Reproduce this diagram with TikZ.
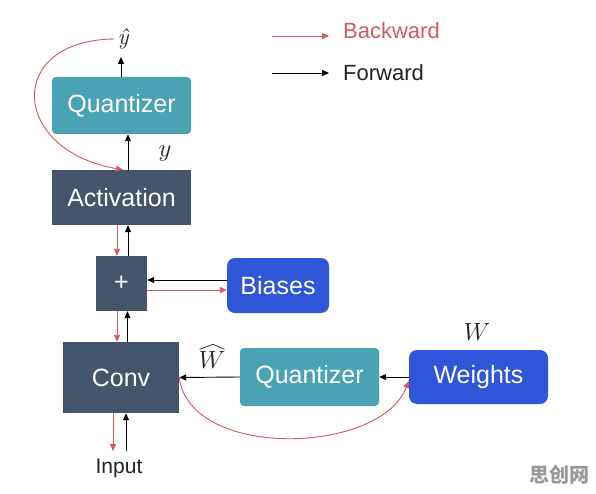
\documentclass[tikz,border=0pt]{standalone}
\usepackage{fontspec}
\setmainfont{Liberation Sans}
\newfontfamily\cjk{Noto Sans CJK SC}
\newfontfamily\lmr{Latin Modern Roman}
\usetikzlibrary{arrows.meta,calc}
\definecolor{tealq}{HTML}{4AA3B5}
\definecolor{darkb}{HTML}{44546A}
\definecolor{blueb}{HTML}{2F55D8}
\definecolor{redb}{HTML}{D4585C}
\definecolor{txtk}{HTML}{222222}
\tikzset{
  boxbase/.style={text=white, inner sep=0pt, font=\fontsize{25}{28}\selectfont},
  qbox/.style={boxbase, fill=tealq, rounded corners=4pt},
  dbox/.style={boxbase, fill=darkb},
  bbox/.style={boxbase, fill=blueb, rounded corners=8pt},
  fwd/.style={draw=black, line width=0.9pt, -{Triangle[length=7pt,width=6pt]}},
  bwd/.style={draw=redb, line width=0.9pt, -{Triangle[length=7pt,width=6pt]}},
  mlab/.style={text=txtk, inner sep=0pt, font=\fontsize{23}{26}\selectfont},
  leg/.style={inner sep=0pt, anchor=west, font=\fontsize{22}{26}\selectfont},
}
\begin{document}
\begin{tikzpicture}[x=1pt,y=-1pt]
\useasboundingbox (0,0) rectangle (596,494);
% boxes
\node[qbox, minimum width=139pt, minimum height=57pt] (q1) at (121.5,105.5) {Quantizer};
\node[dbox, minimum width=139pt, minimum height=55pt] (act) at (121.5,197.5) {Activation};
\node[dbox, minimum width=51pt, minimum height=55pt] (plus) at (121.5,283.5) {+};
\node[bbox, minimum width=102pt, minimum height=55pt] (bias) at (278,285.5) {Biases};
\node[dbox, minimum width=116pt, minimum height=71pt] (conv) at (121,377.5) {Conv};
\node[qbox, minimum width=139pt, minimum height=58pt] (q2) at (309.5,377) {Quantizer};
\node[bbox, minimum width=139pt, minimum height=54pt] (wts) at (478.5,377) {Weights};
% labels
\node[mlab] (yhat) at (123,39) {\lmr\itshape ŷ};
\node[mlab] (ylab) at (165,154) {$y$};
\node[mlab] (what) at (212,360) {$W$};
\draw[txtk, line width=0.7pt, line join=round]
  ($(what.north west)+(1,-2)$) -- ($(what.north)+(1,-7)$) -- ($(what.north east)+(-1,-2)$);
\node[mlab] (wlab) at (477,332) {$W$};
\node[text=txtk, inner sep=0pt, font=\fontsize{21}{24}\selectfont] (inp) at (119,468) {Input};
% legend
\coordinate (lb1) at (272,36); \coordinate (lb2) at (329,36);
\coordinate (lf1) at (272,73); \coordinate (lf2) at (329,73);
\draw[bwd] (lb1) -- (lb2);
\draw[fwd] (lf1) -- (lf2);
\node[leg, text=redb] (legb) at (343,31) {Backward};
\node[leg, text=txtk] (legf) at (343,73) {Forward};
% forward arrows
\coordinate (yhatb) at (121,57);
\draw[fwd] (q1.north -| 121,0) -- (yhatb);
\draw[fwd] (act.north -| 128,0) -- (q1.south -| 128,0);
\draw[fwd] (plus.north -| 128,0) -- (act.south -| 128,0);
\draw[fwd] (conv.north -| 127.5,0) -- (plus.south -| 127.5,0);
\coordinate (inf) at (126,451);
\draw[fwd] (inf) -- (conv.south -| 126,0);
\draw[fwd] (bias.west |- 0,280) -- (plus.east |- 0,280);
\draw[fwd] (wts.west) -- (q2.east);
\draw[fwd] (q2.west) -- (conv.east);
% backward arrows
\draw[bwd] (act.south -| 117,0) -- (plus.north -| 117,0);
\draw[bwd] (plus.south -| 117,0) -- (conv.north -| 117,0);
\coordinate (inb) at (113,451);
\draw[bwd] (conv.south -| 113,0) -- (inb);
\draw[bwd] (plus.east |- 0,290) -- (bias.west |- 0,290);
\draw[bwd] ([xshift=-3pt]yhat.west) .. controls (5,40) and (10,150) .. (act.north -| 123,0);
\draw[bwd] (conv.east) .. controls (190,460) and (380,455) .. (wts.west |- 0,381);
% watermark
\node[text=black!40, inner sep=0pt, font=\cjk\bfseries\fontsize{20}{22}\selectfont] (wm) at (559,475) {思创网};
\end{tikzpicture}
\end{document}
